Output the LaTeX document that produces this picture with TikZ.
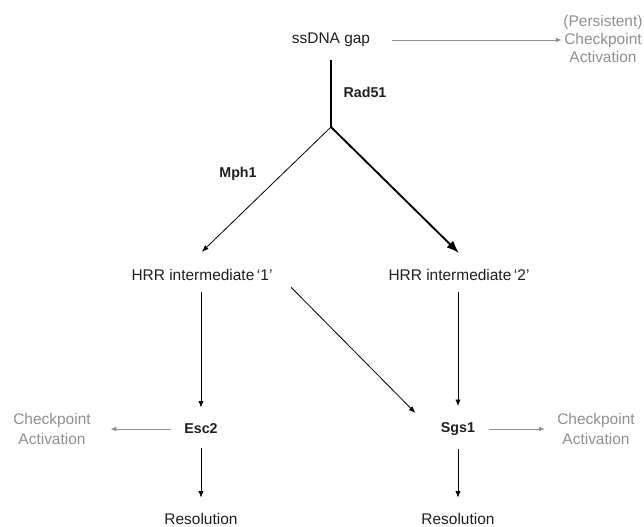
\documentclass[tikz,border=0pt]{standalone}
\usepackage{fontspec}
\setmainfont{Liberation Sans}
\usetikzlibrary{arrows.meta,positioning}
\tikzset{>=latex}
\definecolor{cpgray}{gray}{0.56}
\definecolor{txtgray}{gray}{0.12}

\begin{document}
\begin{tikzpicture}[x=0.75pt,y=-0.75pt,
    txt/.style={font=\fontsize{11.6}{14}\selectfont,text=txtgray,inner sep=1pt},
    lbl/.style={font=\fontsize{10.7}{13}\selectfont\bfseries,text=txtgray,inner sep=1pt},
    cp/.style={txt,text=cpgray,align=center},
    thinarr/.style={-{Latex[length=5pt,width=4pt]},line width=0.6pt},
    thickarr/.style={-{Latex[length=9.5pt,width=7pt]},line width=1.4pt},
    grayarr/.style={-{Latex[length=4.5pt,width=3.5pt]},cpgray,line width=0.7pt}]
  \useasboundingbox (0,0) rectangle (644,526);

  % top
  \node [txt] (gap) at (331,40) {ssDNA gap};
  \node [cp] (pers) at (603,39) {(Persistent)\\[-0.5pt]Checkpoint\\[-0.5pt]Activation};
  \draw [grayarr,shorten <=15pt] (gap.east) -- (gap.east -| pers.west);
  \coordinate (junc) at (331,127);
  \draw [line width=1.8pt,shorten <=8.5pt] (gap.south) -- (junc);
  \node [lbl] (rad) at (365,92) {Rad51};

  % branches
  \node [txt] (hrr1) at (202,275) {HRR intermediate\,‘1’};
  \node [txt] (hrr2) at (459,275) {HRR intermediate\,‘2’};
  \draw [thinarr] (junc) -- ([yshift=12pt]hrr1.north);
  \draw [thickarr] (junc) -- ([yshift=11pt]hrr2.north);
  \node [lbl] (mph) at (238,174) {Mph1};

  % helicases
  \node [lbl] (esc) at (201,429) {Esc2};
  \node [lbl] (sgs) at (458,429) {Sgs1};
  \draw [thinarr,shorten <=7pt,shorten >=11pt] (hrr1.south -| esc) -- (esc);
  \draw [thinarr,shorten <=7pt,shorten >=11pt] (hrr2.south -| sgs) -- (sgs);
  \draw [thinarr] ([shift={(12.75pt,-3.75pt)}]hrr1.south east) -- ([shift={(-18pt,6pt)}]sgs.north west);

  % outcomes
  \node [cp] (cpl) at (52,429) {Checkpoint\\[0.5pt]Activation};
  \node [cp] (cpr) at (596,429) {Checkpoint\\[0.5pt]Activation};
  \draw [grayarr,shorten <=9pt,shorten >=13.5pt] (esc) -- (cpl);
  \draw [grayarr,shorten <=9pt,shorten >=8pt] (sgs) -- (cpr);
  \node [txt] (res1) at (201,519) {Resolution};
  \node [txt] (res2) at (458,519) {Resolution};
  \draw [thinarr,shorten <=9pt,shorten >=10.5pt] (esc) -- (res1);
  \draw [thinarr,shorten <=9pt,shorten >=10.5pt] (sgs) -- (res2);
\end{tikzpicture}
\end{document}
